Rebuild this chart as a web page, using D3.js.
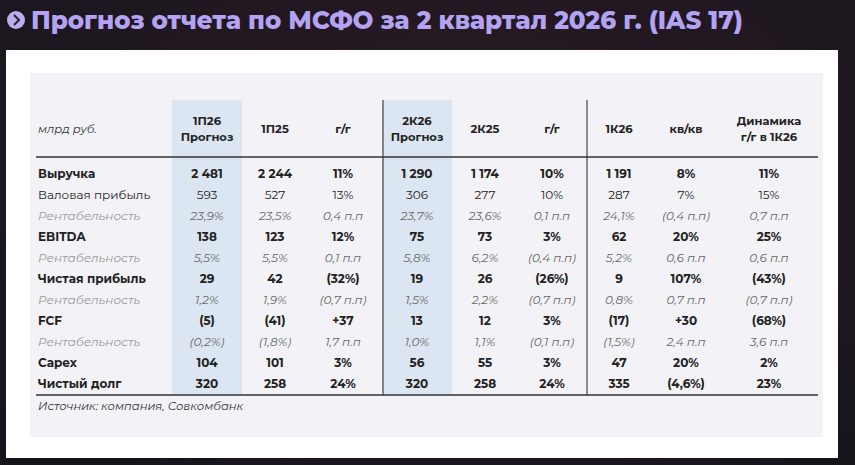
<!DOCTYPE html>
<html><head><meta charset="utf-8">
<script src="https://cdn.jsdelivr.net/npm/d3@7"></script>
<style>body{margin:0;background:#1b1720;}svg{display:block}</style>
</head><body><svg id="c" width="855" height="465"></svg>
<script>
const columns = ["1П26\nПрогноз","1П25","г/г","2К26\nПрогноз","2К25","г/г","1К26","кв/кв","Динамика\nг/г в 1К26"];
const rowLabels = ["Выручка","Валовая прибыль","Рентабельность","EBITDA","Рентабельность","Чистая прибыль","Рентабельность","FCF","Рентабельность","Capex","Чистый долг"];
const rowStyles = ["bold","normal","italic","bold","italic","bold","italic","bold","italic","bold","bold"];
const values = [
 ["2 481","2 244","11%","1 290","1 174","10%","1 191","8%","11%"],
 ["593","527","13%","306","277","10%","287","7%","15%"],
 ["23,9%","23,5%","0,4 п.п","23,7%","23,6%","0,1 п.п","24,1%","(0,4 п.п)","0,7 п.п"],
 ["138","123","12%","75","73","3%","62","20%","25%"],
 ["5,5%","5,5%","0,1 п.п","5,8%","6,2%","(0,4 п.п)","5,2%","0,6 п.п","0,6 п.п"],
 ["29","42","(32%)","19","26","(26%)","9","107%","(43%)"],
 ["1,2%","1,9%","(0,7 п.п)","1,5%","2,2%","(0,7 п.п)","0,8%","0,7 п.п","(0,7 п.п)"],
 ["(5)","(41)","+37","13","12","3%","(17)","+30","(68%)"],
 ["(0,2%)","(1,8%)","1,7 п.п","1,0%","1,1%","(0,1 п.п)","(1,5%)","2,4 п.п","3,6 п.п"],
 ["104","101","3%","56","55","3%","47","20%","2%"],
 ["320","258","24%","320","258","24%","335","(4,6%)","23%"]
];
const title = "Прогноз отчета по МСФО за 2 квартал 2026 г. (IAS 17)";
const unitLabel = "млрд руб.";
const source = "Источник: компания, Совкомбанк";

const svg = d3.select("#c");
const F = "Montserrat, 'Open Sans', 'Noto Sans', sans-serif";
const bg = svg.append("defs").append("radialGradient").attr("id","g").attr("cx","0.55").attr("cy","0.3").attr("r","0.8");
bg.append("stop").attr("offset","0").attr("stop-color","#2a1a24");
bg.append("stop").attr("offset","1").attr("stop-color","#17151c");
svg.append("rect").attr("width",855).attr("height",465).attr("fill","url(#g)");
svg.append("circle").attr("cx",16).attr("cy",20).attr("r",9).attr("fill","#b9aef0");
svg.append("path").attr("d","M14,15 L19,20 L14,25").attr("stroke","#2a2230").attr("stroke-width",2).attr("fill","none");
svg.append("text").attr("x",31).attr("y",29).text(title).attr("fill","#b3a3f2")
 .attr("font-family",F).attr("font-weight",800).attr("font-size",24.5);
svg.append("rect").attr("x",6).attr("y",50).attr("width",832).attr("height",408).attr("fill","#fff");
svg.append("rect").attr("x",30).attr("y",73).attr("width",793).attr("height",364).attr("fill","#f3f3f7");

const xs = [207,275,343,417,485,552,619,686,769];
const y = d3.scaleBand().domain(d3.range(rowLabels.length)).range([164,394]);
const yTop=100, yBot=395;
[0,3].forEach(i=>svg.append("rect").attr("x",xs[i]-35).attr("y",yTop).attr("width",70).attr("height",yBot-yTop).attr("fill","#dce6f2"));
[383,587].forEach(v=>svg.append("line").attr("x1",v).attr("x2",v).attr("y1",yTop).attr("y2",yBot).attr("stroke","#222").attr("stroke-width",1));
svg.append("line").attr("x1",36).attr("x2",818).attr("y1",157).attr("y2",157).attr("stroke","#333").attr("stroke-width",1.5);
svg.append("line").attr("x1",36).attr("x2",818).attr("y1",yBot).attr("y2",yBot).attr("stroke","#333").attr("stroke-width",1.5);

svg.append("text").attr("x",38).attr("y",133).text(unitLabel).attr("font-family",F).attr("font-style","italic").attr("font-size",11.5).attr("fill","#333");
columns.forEach((c,i)=>{
  const lines=c.split("\n");
  const t=svg.append("text").attr("text-anchor","middle").attr("font-family",F).attr("font-weight",700).attr("font-size",11.5).attr("fill","#222");
  lines.forEach((l,k)=>t.append("tspan").attr("x",xs[i]).attr("y",133+(k-(lines.length-1)/2)*16).text(l));
});
rowLabels.forEach((r,j)=>{
  const st=rowStyles[j];
  const yy=y(j)+y.bandwidth()/2+4;
  const set=(t,fill)=>t.attr("font-family",F).attr("font-size",12).attr("fill",fill)
    .attr("font-weight",st==="bold"?700:400).attr("font-style",st==="italic"?"italic":"normal");
  set(svg.append("text").attr("x",38).attr("y",yy).text(r), st==="italic"?"#999":"#222");
  values[j].forEach((v,i)=>set(svg.append("text").attr("x",xs[i]).attr("y",yy).attr("text-anchor","middle").text(v), st==="italic"?"#666":"#222"));
});
svg.append("text").attr("x",38).attr("y",410).text(source).attr("font-family",F).attr("font-style","italic").attr("font-size",11.5).attr("fill","#333");
</script></body></html>
